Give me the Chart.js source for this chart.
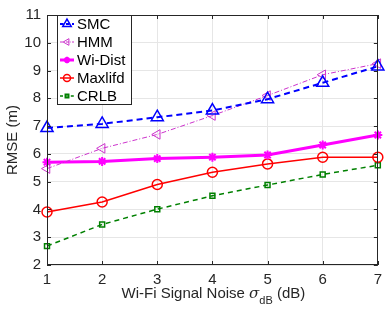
<!DOCTYPE html>
<html><head><meta charset="utf-8">
<script src="https://cdn.jsdelivr.net/npm/chart.js@4"></script>
<style>html,body{margin:0;padding:0;background:#fff}#c{display:block}</style>
</head><body>
<canvas id="c" width="388" height="310"></canvas>
<script>
const noise = [1,2,3,4,5,6,7];
const smc = [6.93,7.08,7.32,7.56,7.97,8.56,9.15];
const hmm = [5.47,6.20,6.70,7.38,8.10,8.85,9.25];
const wiDist = [5.70,5.73,5.83,5.88,5.96,6.32,6.68];
const maxlifd = [3.91,4.27,4.90,5.34,5.64,5.88,5.88];
const crlb = [2.68,3.46,4.01,4.49,4.88,5.26,5.59];
const seriesNames = ['SMC','HMM','Wi-Dist','Maxlifd','CRLB'];
const xTicks = [1,2,3,4,5,6,7];
const yTicks = [2,3,4,5,6,7,8,9,10,11];
const yTitle = 'RMSE (m)';

const FONT = '"Liberation Sans", Arial, sans-serif';
const TXT = '#262626';

function pts(v){ return noise.map((x,i)=>({x:x,y:v[i]})); }

const datasets = [
  {label:seriesNames[0], data:pts(smc), borderColor:'#0000ff', borderWidth:2, borderDash:[6,4],
   pointStyle:'triangle', pointRadius:7, pointBorderWidth:1.5, pointBackgroundColor:'rgba(0,0,0,0)', pointBorderColor:'#0000ff', pointRotation:0, order:1},
  {label:seriesNames[1], data:pts(hmm), borderColor:'#cc33cc', borderWidth:1, borderDash:[5,2,1,2],
   pointStyle:'triangle', pointRadius:5.5, pointBorderWidth:1, pointBackgroundColor:'rgba(0,0,0,0)', pointBorderColor:'#cc33cc', pointRotation:-90, order:2},
  {label:seriesNames[2], data:pts(wiDist), borderColor:'#ff00ff', borderWidth:3, borderDash:[],
   pointStyle:'star', pointRadius:4.5, pointBorderWidth:2, pointBackgroundColor:'#ff00ff', pointBorderColor:'#ff00ff', pointRotation:0, order:3},
  {label:seriesNames[3], data:pts(maxlifd), borderColor:'#ff0000', borderWidth:1.5, borderDash:[],
   pointStyle:'circle', pointRadius:5, pointBorderWidth:1.5, pointBackgroundColor:'rgba(0,0,0,0)', pointBorderColor:'#ff0000', pointRotation:0, order:4},
  {label:seriesNames[4], data:pts(crlb), borderColor:'#008000', borderWidth:1.5, borderDash:[5,4],
   pointStyle:'rect', pointRadius:3.5, pointBorderWidth:1.5, pointBackgroundColor:'rgba(0,0,0,0)', pointBorderColor:'#008000', pointRotation:0, order:5}
];
datasets.forEach(d=>{ d.fill=false; d.tension=0; d.clip=false; d.showLine=true; });

const framePlugin = {
  id:'frame',
  afterDatasetsDraw(chart){
    const ctx = chart.ctx, a = chart.chartArea;
    const xs = chart.scales.x, ys = chart.scales.y;
    ctx.save();
    ctx.strokeStyle = '#262626';
    ctx.lineWidth = 1;
    ctx.setLineDash([]);
    ctx.strokeRect(Math.round(a.left)+0.5, Math.round(a.top)+0.5, Math.round(a.right-a.left)-1, Math.round(a.bottom-a.top)-1);
    ctx.beginPath();
    xTicks.forEach(v=>{
      const px = Math.round(xs.getPixelForValue(v))+0.5;
      ctx.moveTo(px,a.bottom); ctx.lineTo(px,a.bottom-4);
      ctx.moveTo(px,a.top); ctx.lineTo(px,a.top+4);
    });
    yTicks.forEach(v=>{
      const py = Math.round(ys.getPixelForValue(v))+0.5;
      ctx.moveTo(a.left,py); ctx.lineTo(a.left+4,py);
      ctx.moveTo(a.right,py); ctx.lineTo(a.right-4,py);
    });
    ctx.stroke();
    ctx.restore();
  },
  afterDraw(chart){
    const ctx = chart.ctx, a = chart.chartArea;
    const H = Chart.helpers;
    ctx.save();
    // y title
    ctx.fillStyle = TXT;
    ctx.font = '15px '+FONT;
    ctx.textAlign='center'; ctx.textBaseline='middle';
    ctx.translate(13,(a.top+a.bottom)/2);
    ctx.rotate(-Math.PI/2);
    ctx.fillText(yTitle,0,0);
    ctx.restore();
    // x title with subscript
    ctx.save();
    ctx.fillStyle = TXT;
    ctx.textBaseline='alphabetic'; ctx.textAlign='left';
    const p1 = 'Wi-Fi Signal Noise ', p2 = '\u03C3', p3 = 'dB', p4 = ' (dB)';
    ctx.font = '15px '+FONT; const w1 = ctx.measureText(p1).width, w4 = ctx.measureText(p4).width;
    ctx.font = 'italic 15px "DejaVu Serif", serif'; const w2 = ctx.measureText(p2).width;
    ctx.font = '11px '+FONT; const w3 = ctx.measureText(p3).width;
    const total = w1+w2+w3+w4;
    let x = (a.left+a.right)/2 - total/2 + 1;
    const base = 298;
    ctx.font = '15px '+FONT; ctx.fillText(p1,x,base); x+=w1;
    ctx.font = 'italic 15px "DejaVu Serif", serif'; ctx.fillText(p2,x,base); x+=w2;
    ctx.font = '11px '+FONT; ctx.fillText(p3,x,base+6); x+=w3;
    ctx.font = '15px '+FONT; ctx.fillText(p4,x,base);
    ctx.restore();
    // legend
    ctx.save();
    const lx=57, ly=15, lw=74, lh=89;
    ctx.fillStyle='#ffffff'; ctx.fillRect(lx,ly,lw,lh);
    ctx.strokeStyle='#262626'; ctx.lineWidth=1; ctx.strokeRect(lx+0.5,ly+0.5,lw,lh);
    chart.data.datasets.forEach((d,i)=>{
      const cy = 24 + i*18;
      ctx.save();
      ctx.strokeStyle=d.borderColor; ctx.lineWidth=d.borderWidth;
      ctx.setLineDash(d.borderDash.length?d.borderDash.map(v=>v*0.6):[]);
      ctx.beginPath(); ctx.moveTo(60,cy); ctx.lineTo(74,cy); ctx.stroke();
      ctx.setLineDash([]);
      ctx.strokeStyle=d.pointBorderColor; ctx.fillStyle=d.pointBackgroundColor; ctx.lineWidth=d.pointBorderWidth;
      H.drawPoint(ctx,{pointStyle:d.pointStyle,rotation:d.pointRotation,radius:d.pointRadius*0.7,borderWidth:d.pointBorderWidth},67,cy);
      ctx.restore();
      ctx.fillStyle='#000'; ctx.font='15px '+FONT; ctx.textAlign='left'; ctx.textBaseline='middle';
      ctx.fillText(d.label,77,cy+1);
    });
    ctx.restore();
  }
};

new Chart(document.getElementById('c'),{
  type:'line',
  data:{datasets:datasets},
  options:{
    responsive:false, devicePixelRatio:1, animation:false,
    layout:{padding:{top:12,right:3,left:0,bottom:0}},
    plugins:{legend:{display:false}, tooltip:{enabled:false}},
    scales:{
      x:{type:'linear', min:1, max:7,
        afterBuildTicks(s){ s.ticks = xTicks.map(v=>({value:v})); },
        afterFit(s){ s.height = 45; },
        border:{display:false},
        grid:{color:'#e6e6e6', drawTicks:false, lineWidth:1},
        ticks:{color:TXT, padding:6, font:{family:FONT,size:15}}},
      y:{type:'linear', min:2, max:11,
        afterBuildTicks(s){ s.ticks = yTicks.map(v=>({value:v})); },
        afterFit(s){ s.width = 47; },
        border:{display:false},
        grid:{color:'#e6e6e6', drawTicks:false, lineWidth:1},
        ticks:{color:TXT, padding:6, font:{family:FONT,size:15}}}
    }
  },
  plugins:[framePlugin]
});
</script>
</body></html>
